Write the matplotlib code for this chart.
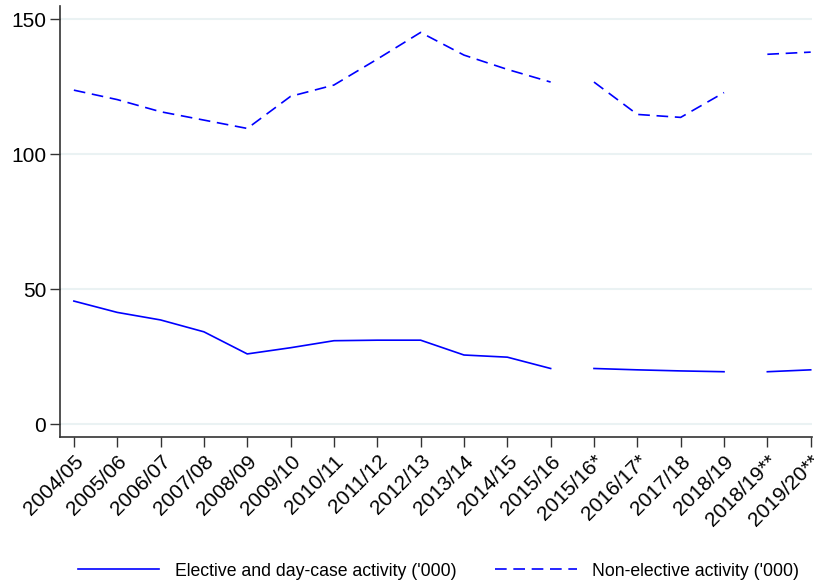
import matplotlib
matplotlib.use("Agg")
import matplotlib.pyplot as plt
import numpy as np

# ********************** Data **********************

years = ['2004/05', '2005/06', '2006/07', '2007/08', '2008/09', '2009/10',
         '2010/11', '2011/12', '2012/13', '2013/14', '2014/15', '2015/16',
         '2015/16*', '2016/17*', '2017/18', '2018/19', '2018/19**', '2019/20**']

elective = [45.6, 41.4, 38.6, 34.2, 26.0, 28.3, 30.9, 31.1, 31.1, 25.6, 24.8,
            20.6, 20.6, 20.1, 19.7, 19.4, 19.4, 20.1]

non_elective = [123.8, 120.3, 115.8, 112.7, 109.6, 121.5, 125.7, 135.3, 145.2,
                136.8, 131.5, 126.8, 126.8, 114.8, 113.7, 122.9, 137.1, 137.9]

# series breaks where the counting basis changes (start, end) index pairs
segments = [(0, 12), (12, 16), (16, 18)]

# ********************** Plot **********************

plt.rcParams['font.family'] = ['Liberation Sans', 'DejaVu Sans']

fig = plt.figure(figsize=(8.14, 5.83), dpi=100)
ax = fig.add_axes([60 / 814, 1 - 437 / 583, 752 / 814, 431 / 583])

x = np.arange(len(years))
blue = '#0000ff'
for i, (a, b) in enumerate(segments):
    ax.plot(x[a:b], elective[a:b], color=blue, lw=1.2,
            label="Elective and day-case activity ('000)" if i == 0 else None)
    ax.plot(x[a:b], non_elective[a:b], color=blue, lw=1.2, dashes=(7, 4),
            label="Non-elective activity ('000)" if i == 0 else None)

ax.set_xlim(-0.32, 17.03)
ax.set_ylim(-4.8, 155)
ax.set_yticks([0, 50, 100, 150])
ax.set_xticks(x)
ax.set_xticklabels(years, rotation=45, ha='right', rotation_mode='anchor')
ax.tick_params(axis='both', labelsize=15, length=7, width=1, color='#333333')
ax.tick_params(axis='y', pad=3)

ax.grid(axis='y', color='#eaf2f3', lw=1.5)
ax.set_axisbelow(True)
for side in ['top', 'right']:
    ax.spines[side].set_visible(False)
for side in ['left', 'bottom']:
    ax.spines[side].set_color('#333333')
    ax.spines[side].set_linewidth(1.2)

fig.legend(loc='center', bbox_to_anchor=(0.539, 1 - 571 / 583), ncol=2,
           frameon=False, fontsize=12.7, handlelength=4.6, columnspacing=2.2,
           handletextpad=0.9)

fig.savefig('out.png', dpi=100)
